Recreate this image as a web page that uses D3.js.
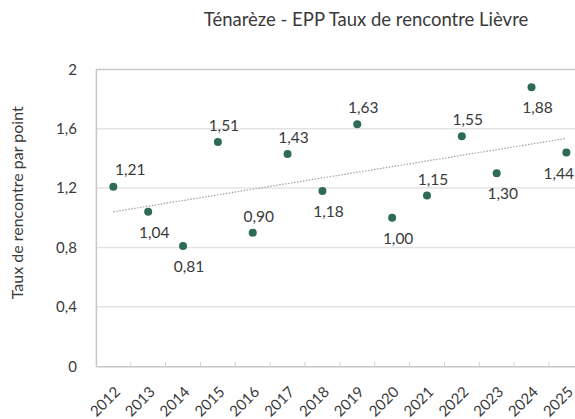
<!DOCTYPE html>
<html>
<head>
  <meta charset="utf-8">
  <title></title>
  <style>
    body { margin: 0; background: #fff; }
    svg { display: block; }
  </style>
</head>
<body>
<svg id="chart" xmlns="http://www.w3.org/2000/svg"></svg>

<script src="https://cdn.jsdelivr.net/npm/d3@7"></script>
<script>

const years = ["2012", "2013", "2014", "2015", "2016", "2017", "2018",
               "2019", "2020", "2021", "2022", "2023", "2024", "2025"];
const taux = [1.21, 1.04, 0.81, 1.51, 0.90, 1.43, 1.18,
              1.63, 1.00, 1.15, 1.55, 1.30, 1.88, 1.44];
// where the value label sits relative to its point
const labelSide = ["upright", "down", "down", "up", "up", "up", "down",
                   "up", "down", "up", "up", "down", "down", "down"];
const yTicks = [0, 0.4, 0.8, 1.2, 1.6, 2];

const width = 575;
const height = 419;
// the plot runs a bit past the right edge, like the cropped original
const margin = {top: 69.4, left: 95.9, bottom: 366.2, right: 583.8};

const font = "Lato, 'Open Sans', sans-serif";
const textColor = "#3a3a3a";
const dotColor = "#2e6b55";

const fmt = d3.format(".2f");
const comma = v => fmt(v).replace(".", ",");
const tickFmt = v => String(v).replace(".", ",");

const svg = d3.select("#chart")
    .attr("width", width)
    .attr("height", height)
    .style("font-family", font);

const x = d3.scaleBand()
    .domain(years)
    .range([margin.left, margin.right])
    .paddingInner(0)
    .paddingOuter(0);

const y = d3.scaleLinear()
    .domain([0, 2])
    .range([margin.bottom, margin.top]);

// title
svg.append("text")
    .attr("x", 366)
    .attr("y", 26)
    .attr("text-anchor", "middle")
    .attr("fill", textColor)
    .style("font-size", "18.5px")
    .text("Ténarèze - EPP Taux de rencontre Lièvre");

// horizontal gridlines
svg.append("g")
    .selectAll("line")
    .data(yTicks.filter(d => d > 0))
    .join("line")
      .attr("x1", margin.left)
      .attr("x2", margin.right)
      .attr("y1", d => y(d))
      .attr("y2", d => y(d))
      .attr("stroke", d => d === 2 ? "#c8c8c8" : "#e3e3e3")
      .attr("stroke-width", 1.5);

// y axis
const yAxis = svg.append("g")
    .attr("transform", `translate(${margin.left},0)`)
    .call(d3.axisLeft(y).tickValues(yTicks).tickFormat(tickFmt).tickSize(0).tickPadding(19));
yAxis.select(".domain").attr("stroke", "#c6c6c6").attr("stroke-width", 1.5);
yAxis.selectAll("text")
    .attr("fill", textColor)
    .style("font-family", font)
    .style("font-size", "15px");

// x axis
const xAxis = svg.append("g")
    .attr("transform", `translate(0,${margin.bottom})`)
    .call(d3.axisBottom(x).tickSize(0).tickPadding(0));
xAxis.select(".domain").attr("stroke", "#c6c6c6").attr("stroke-width", 1.5);
xAxis.selectAll("text")
    .attr("fill", textColor)
    .attr("text-anchor", "end")
    .attr("transform", "translate(4,23) rotate(-45)")
    .attr("dy", "0.35em")
    .attr("y", 0)
    .style("font-family", font)
    .style("font-size", "15px");

// category boundary ticks
svg.append("g")
    .selectAll("line")
    .data(years.slice(1))
    .join("line")
      .attr("x1", d => x(d))
      .attr("x2", d => x(d))
      .attr("y1", margin.bottom - 4)
      .attr("y2", margin.bottom)
      .attr("stroke", "#d0d0d0");

// linear trend (least squares)
const n = taux.length;
const xs = d3.range(n);
const mx = d3.mean(xs), my = d3.mean(taux);
const slope = d3.sum(xs, i => (i - mx) * (taux[i] - my)) / d3.sum(xs, i => (i - mx) ** 2);
const icpt = my - slope * mx;
const cx = i => x(years[i]) + x.bandwidth() / 2;

svg.append("line")
    .attr("x1", cx(0))
    .attr("y1", y(icpt))
    .attr("x2", cx(n - 1))
    .attr("y2", y(icpt + slope * (n - 1)))
    .attr("stroke", "#a0a0a0")
    .attr("stroke-width", 1.2)
    .attr("stroke-dasharray", "1.5,1.5");

// points
svg.append("g")
    .selectAll("circle")
    .data(taux)
    .join("circle")
      .attr("cx", (d, i) => cx(i))
      .attr("cy", d => y(d))
      .attr("r", 4)
      .attr("fill", dotColor);

// value labels
const labelDx = {upright: 17, up: 6, down: 6};
const labelDy = {upright: -12, up: -11, down: 26};
svg.append("g")
    .selectAll("text")
    .data(taux)
    .join("text")
      .attr("x", (d, i) => cx(i) + labelDx[labelSide[i]])
      .attr("y", (d, i) => y(d) + labelDy[labelSide[i]])
      .attr("text-anchor", "middle")
      .attr("fill", textColor)
      .style("font-size", "15.5px")
      .text(d => comma(d))
      .each(function () {
        // keep the label inside the picture
        const w = this.getComputedTextLength();
        const xNow = +this.getAttribute("x");
        if (xNow + w / 2 > width - 1) this.setAttribute("x", width - 1 - w / 2);
      });

// y axis title
svg.append("text")
    .attr("transform", `translate(23,${(margin.top + margin.bottom) / 2 - 15}) rotate(-90)`)
    .attr("text-anchor", "middle")
    .attr("fill", textColor)
    .style("font-size", "16px")
    .text("Taux de rencontre par point");

</script>
</body>
</html>
